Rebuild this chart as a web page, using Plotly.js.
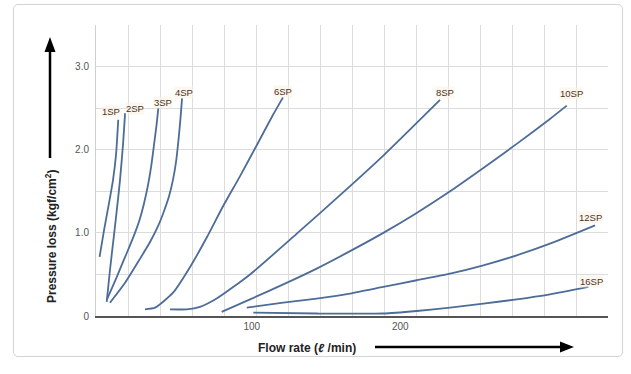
<!DOCTYPE html>
<html>
<head>
<meta charset="utf-8">
<script src="https://cdn.plot.ly/plotly-3.0.1.min.js"></script>
<style>
  html, body { margin: 0; padding: 0; background: #ffffff; }
  #wrap { position: relative; width: 631px; height: 374px; }
  #chart { position: absolute; left: 0; top: 0; width: 631px; height: 374px; }
  #frame { position: absolute; left: 13px; top: 4px; width: 608px; height: 351px;
           border: 1px solid #d4d4d4; border-radius: 5px; pointer-events: none; }
</style>
</head>
<body>
<div id="wrap">
  <div id="chart"></div>
  <div id="frame"></div>
</div>
<script>
// ---- data (flow rate in l/min, pressure loss in kgf/cm2) ----
const seriesNames = ["1SP", "2SP", "3SP", "4SP", "6SP", "8SP", "10SP", "12SP", "16SP"];

const flow1SP = [-2.6, 0.4, 3.8, 6.5, 8.5, 10.0];
const loss1SP = [0.71, 1.03, 1.36, 1.64, 1.94, 2.36];

const flow2SP = [2.2, 4.4, 7.1, 9.8, 11.2, 13.2, 14.6];
const loss2SP = [0.17, 0.55, 0.97, 1.40, 1.64, 2.06, 2.44];

const flow3SP = [2.4, 7.8, 13.2, 17.9, 21.9, 24.6, 27.3, 30.1, 32.1, 34.1, 35.8, 37.0];
const loss3SP = [0.20, 0.42, 0.65, 0.85, 1.03, 1.17, 1.35, 1.58, 1.79, 2.06, 2.30, 2.50];

const flow4SP = [4.4, 14.6, 24.7, 31.4, 36.8, 40.8, 44.2, 46.9, 48.9, 50.6, 51.9, 53.0];
const loss4SP = [0.16, 0.40, 0.69, 0.89, 1.08, 1.26, 1.44, 1.64, 1.85, 2.12, 2.37, 2.62];

const flow6SP = [28.0, 34.8, 46.9, 58.4, 69.8, 80.6, 92.0, 103.5, 114.3, 121.0];
const loss6SP = [0.08, 0.10, 0.28, 0.59, 0.95, 1.32, 1.68, 2.06, 2.42, 2.63];

const flow8SP = [44.9, 56.1, 65.1, 76.3, 98.8, 130.3, 161.7, 188.6, 226.8];
const loss8SP = [0.08, 0.08, 0.11, 0.21, 0.50, 0.99, 1.49, 1.93, 2.60];

const flow10SP = [79.7, 98.8, 121.2, 143.7, 166.2, 188.6, 211.1, 233.6, 256.0, 278.5, 300.9, 312.2];
const loss10SP = [0.05, 0.20, 0.38, 0.57, 0.78, 1.00, 1.24, 1.50, 1.78, 2.07, 2.37, 2.53];

const flow12SP = [96.6, 121.2, 143.7, 166.2, 188.6, 211.1, 233.6, 256.0, 278.5, 300.9, 331.3];
const loss12SP = [0.10, 0.16, 0.21, 0.27, 0.35, 0.43, 0.51, 0.61, 0.73, 0.87, 1.09];

const flow16SP = [101.0, 143.7, 188.6, 211.1, 233.6, 256.0, 278.5, 300.9, 326.8];
const loss16SP = [0.04, 0.03, 0.03, 0.06, 0.10, 0.15, 0.20, 0.26, 0.35];

const xTickVals = [100, 200];
const xTickText = ["100", "200"];
const yTickVals = [0, 1, 2, 3];
const yTickText = ["0", "1.0", "2.0", "3.0"];

const xTitle = "Flow rate (<i>ℓ</i> /min)";
const yTitle = "Pressure loss (kgf/cm<sup>2</sup>)";

// ---- styling / placement ----
const flows = [flow1SP, flow2SP, flow3SP, flow4SP, flow6SP, flow8SP, flow10SP, flow12SP, flow16SP];
const losses = [loss1SP, loss2SP, loss3SP, loss4SP, loss6SP, loss8SP, loss10SP, loss12SP, loss16SP];
const labelShift = [[-7, 8], [10, 5], [5, 6], [2, 6], [0, 6], [5, 7], [5, 12], [-5, 8], [3, 5]];
const lineColor = "#4d6c98";
const gridColor = "#dcdcdc";

const traces = seriesNames.map((name, i) => ({
  type: "scatter",
  mode: "lines",
  name: name,
  x: flows[i],
  y: losses[i],
  line: { color: lineColor, width: 1.8, shape: "spline", smoothing: 0.6 },
  hoverinfo: "skip"
}));

const seriesLabels = seriesNames.map((name, i) => ({
  x: flows[i][flows[i].length - 1],
  y: losses[i][losses[i].length - 1],
  xref: "x", yref: "y",
  text: name,
  showarrow: false,
  xshift: labelShift[i][0],
  yshift: labelShift[i][1],
  font: { family: "Liberation Sans Narrow, Liberation Sans, sans-serif", size: 9.5, color: "#4e3226" },
  bgcolor: "rgba(250,243,228,0.6)",
  borderpad: 0
}));

const plotL = 96, plotR = 608, plotT = 25, plotB = 316;
const pw = plotR - plotL, ph = plotB - plotT;
const px = v => (v - plotL) / pw;
const py = v => (plotB - v) / ph;

const titles = [
  { xref: "paper", yref: "paper", x: px(307), y: py(348), xanchor: "center", yanchor: "middle",
    text: "<b>" + xTitle + "</b>",
    showarrow: false, font: { family: "Liberation Sans, Arial, sans-serif", size: 12, color: "#222" } },
  { xref: "paper", yref: "paper", x: px(51), y: py(237), xanchor: "center", yanchor: "middle",
    text: "<b>" + yTitle + "</b>", textangle: -90,
    showarrow: false, font: { family: "Liberation Sans, Arial, sans-serif", size: 12, color: "#222" } }
];

const arrowStyle = { color: "#000000", width: 2.5 };
const shapes = [
  { type: "line", xref: "paper", yref: "paper", x0: px(375), y0: py(347), x1: px(563), y1: py(347), line: arrowStyle },
  { type: "path", xref: "paper", yref: "paper", fillcolor: "#000000", line: { width: 0 },
    path: `M ${px(560)},${py(341.5)} L ${px(574)},${py(347)} L ${px(560)},${py(352.5)} Z` },
  { type: "line", xref: "paper", yref: "paper", x0: px(50), y0: py(158), x1: px(50), y1: py(50), line: arrowStyle },
  { type: "path", xref: "paper", yref: "paper", fillcolor: "#000000", line: { width: 0 },
    path: `M ${px(44.5)},${py(52)} L ${px(50)},${py(37)} L ${px(55.5)},${py(52)} Z` }
];

const layout = {
  width: 631, height: 374,
  margin: { l: plotL, r: 631 - plotR, t: plotT, b: 374 - plotB, pad: 0 },
  paper_bgcolor: "#ffffff",
  plot_bgcolor: "#ffffff",
  showlegend: false,
  xaxis: {
    range: [-5, 340],
    showline: true, linecolor: "#555", linewidth: 1.5,
    zeroline: false,
    showgrid: false,
    tickmode: "array", tickvals: xTickVals, ticktext: xTickText,
    ticks: "",
    tickfont: { family: "Liberation Sans, Arial, sans-serif", size: 10, color: "#555" },
    minor: { tick0: -5, dtick: 345 / 16, showgrid: true, gridcolor: gridColor, gridwidth: 1, ticks: "" }
  },
  yaxis: {
    range: [0, 3.5],
    showline: true, linecolor: "#cfcfcf", linewidth: 1,
    zeroline: false,
    showgrid: true, gridcolor: gridColor, gridwidth: 1,
    tickmode: "array", tickvals: yTickVals, ticktext: yTickText,
    ticks: "",
    ticklabelstandoff: 4,
    tickfont: { family: "Liberation Sans, Arial, sans-serif", size: 10, color: "#555" },
    minor: { tick0: 0, dtick: 0.5, showgrid: true, gridcolor: gridColor, gridwidth: 1, ticks: "" }
  },
  shapes: shapes,
  annotations: seriesLabels.concat(titles)
};

Plotly.newPlot("chart", traces, layout, { displayModeBar: false, staticPlot: true });
</script>
</body>
</html>
